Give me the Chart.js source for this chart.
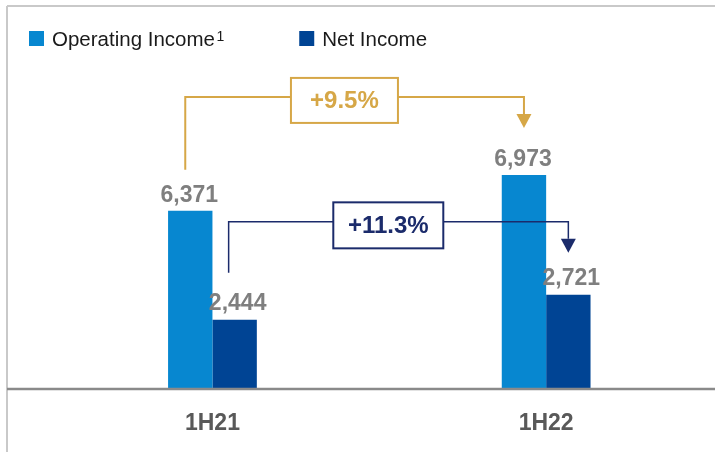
<!DOCTYPE html>
<html>
<head>
<meta charset="utf-8">
<script src="https://cdn.jsdelivr.net/npm/chart.js@4.4.1/dist/chart.umd.min.js"></script>
<style>
	html, body { margin: 0; padding: 0; background: #fff; }
</style>
</head>
<body>
<canvas id="chart" width="715" height="452"></canvas>
<script>
const periods = ['1H21', '1H22'];
const operatingIncome = [6371, 6973];
const netIncome = [2444, 2721];
const seriesNames = ['Operating Income', 'Net Income'];
const seriesNotes = ['1', ''];
const growthLabels = ['+9.5%', '+11.3%'];

const OperatingColor = '#0787d0';
const NetColor = '#004494';
const GoldColor = '#d6a747';
const NavyColor = '#1b2b6b';
const FontFamily = '"Liberation Sans", Arial, sans-serif';

// frame lines, axis line and legend
const framePlugin = {
	id: 'frame',
	afterDraw(chart) {
		const ctx = chart.ctx;
		const w = chart.width, h = chart.height;
		const bottom = chart.chartArea.bottom;
		ctx.save();
		ctx.strokeStyle = '#c9c9c9';
		ctx.lineWidth = 2;
		ctx.beginPath();
		ctx.moveTo(7, 6); ctx.lineTo(w, 6);
		ctx.moveTo(7, 6); ctx.lineTo(7, h);
		ctx.stroke();
		ctx.strokeStyle = '#8a8a8a';
		ctx.lineWidth = 2.5;
		ctx.beginPath();
		ctx.moveTo(7, bottom + 1); ctx.lineTo(w, bottom + 1);
		ctx.stroke();

		// legend (with superscript footnote marker)
		ctx.textBaseline = 'alphabetic';
		ctx.textAlign = 'left';
		let x = 29;
		[OperatingColor, NetColor].forEach((color, i) => {
			ctx.fillStyle = color;
			ctx.fillRect(x, 31, 15, 15);
			ctx.fillStyle = '#1a1a1a';
			ctx.font = '20.5px ' + FontFamily;
			ctx.fillText(seriesNames[i], x + 23, 46);
			let end = x + 23 + ctx.measureText(seriesNames[i]).width;
			if (seriesNotes[i]) {
				ctx.font = '14px ' + FontFamily;
				ctx.fillText(seriesNotes[i], end + 1.5, 41);
				end += 1.5 + ctx.measureText(seriesNotes[i]).width;
			}
			x = end + 75;
		});
		ctx.restore();
	}
};

const drawConnector = (ctx, from, to, opts) => {
	const { color, lineWidth, startOffsetX, startGap, levelGap, tipGap, label, boxW, boxH } = opts;
	const x0 = from.x + startOffsetX, yStart = from.y - startGap;
	const level = to.y - levelGap, x1 = to.x, tip = to.y - tipGap;
	ctx.save();
	ctx.strokeStyle = color;
	ctx.fillStyle = color;
	ctx.lineWidth = lineWidth;
	ctx.beginPath();
	ctx.moveTo(x0, yStart);
	ctx.lineTo(x0, level);
	ctx.lineTo(x1, level);
	ctx.lineTo(x1, tip - 14);
	ctx.stroke();
	ctx.beginPath();
	ctx.moveTo(x1 - 7.5, tip - 14);
	ctx.lineTo(x1 + 7.5, tip - 14);
	ctx.lineTo(x1, tip);
	ctx.closePath();
	ctx.fill();

	const bx = x0 + 0.47 * (x1 - x0), by = level + 3.5;
	ctx.fillStyle = '#fff';
	ctx.fillRect(bx - boxW / 2, by - boxH / 2, boxW, boxH);
	ctx.lineWidth = 2;
	ctx.strokeRect(bx - boxW / 2, by - boxH / 2, boxW, boxH);
	ctx.fillStyle = color;
	ctx.font = 'bold 24px ' + FontFamily;
	ctx.textAlign = 'center';
	ctx.textBaseline = 'middle';
	ctx.fillText(label, bx, by + 1);
	ctx.restore();
};

const annotationPlugin = {
	id: 'annotations',
	afterDatasetsDraw(chart) {
		const ctx = chart.ctx;
		const opBars = chart.getDatasetMeta(0).data;
		const netBars = chart.getDatasetMeta(1).data;

		// value labels
		ctx.save();
		ctx.font = 'bold 23px ' + FontFamily;
		ctx.fillStyle = '#7f7f7f';
		ctx.textAlign = 'center';
		ctx.textBaseline = 'alphabetic';
		opBars.forEach((bar, i) => ctx.fillText(operatingIncome[i].toLocaleString('en-US'), bar.x - 1, bar.y - 9));
		netBars.forEach((bar, i) => ctx.fillText(netIncome[i].toLocaleString('en-US'), bar.x + 3, bar.y - 10));
		ctx.restore();

		drawConnector(ctx, opBars[0], opBars[1], {
			color: GoldColor, lineWidth: 2, startOffsetX: -5, startGap: 41, levelGap: 78, tipGap: 47,
			label: growthLabels[0], boxW: 107, boxH: 45
		});
		drawConnector(ctx, netBars[0], netBars[1], {
			color: NavyColor, lineWidth: 1.5, startOffsetX: -6, startGap: 47, levelGap: 73, tipGap: 42,
			label: growthLabels[1], boxW: 110, boxH: 46
		});
	}
};

new Chart(document.getElementById('chart').getContext('2d'), {
	type: 'bar',
	data: {
		labels: periods,
		datasets: [
			{ label: seriesNames[0], data: operatingIncome, backgroundColor: OperatingColor, yAxisID: 'y' },
			{ label: seriesNames[1], data: netIncome, backgroundColor: NetColor, yAxisID: 'y2' }
		]
	},
	options: {
		responsive: false,
		animation: false,
		devicePixelRatio: 1,
		datasets: { bar: { barPercentage: 1, categoryPercentage: 0.266 } },
		layout: { padding: { left: 45.6, right: 2, top: 60, bottom: -7.6 } },
		plugins: { legend: { display: false }, tooltip: { enabled: false } },
		scales: {
			x: {
				grid: { display: false, drawTicks: false },
				border: { display: false },
				ticks: { color: '#595959', padding: 22, font: { family: FontFamily, size: 23, weight: 'bold' } }
			},
			y: { display: false, min: 3400, max: 8900 },
			y2: { display: false, min: 1690, max: 5320 }
		}
	},
	plugins: [annotationPlugin, framePlugin]
});
</script>
</body>
</html>
